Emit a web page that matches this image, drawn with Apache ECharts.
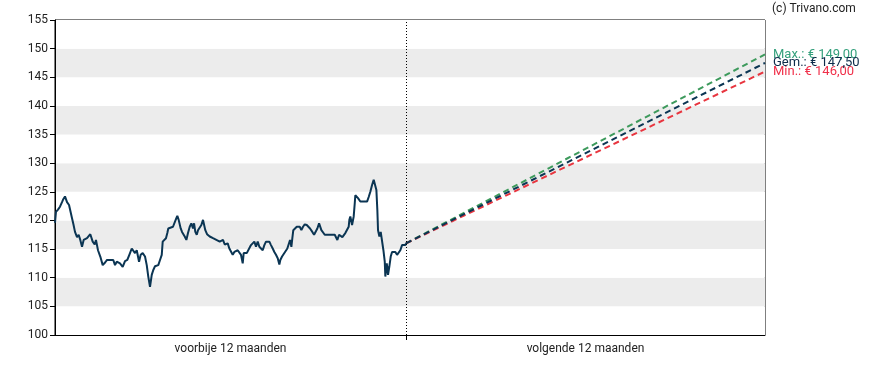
<!DOCTYPE html>
<html>
<head>
<meta charset="utf-8">
<script src="https://cdn.jsdelivr.net/npm/echarts@6/dist/echarts.min.js"></script>
<style>html,body{margin:0;padding:0;background:#fff}#c{width:888px;height:370px}</style>
</head>
<body>
<div id="c"></div>
<script>
// Past 12 months: day offsets (0 = one year ago, 365 = today) and prices
const histDays = [
0,1.0,3.1,5.2,7.3,8.3,10.4,12.5,14.6,16.1,17.7,19.2,20.8,22.9,24.6,26.3,28.1,29.8,31.5,33.3,
35.0,36.7,38.5,39.2,41.3,42.6,44.7,47.1,49.6,50.6,52.3,54.1,55.8,57.2,59.0,60.6,62.4,64.2,65.8,67.6,
69.2,70.4,72.8,75.2,77.3,79.8,81.4,83.2,85.0,87.4,89.1,91.2,93.6,95.4,97.0,98.8,100.6,102.2,104.0,105.8,
107.4,109.2,111.0,112.0,113.7,115.4,116.8,117.8,119.6,122.7,124.5,126.2,127.2,128.6,130.7,132.1,133.1,134.9,136.6,138.3,
140.1,141.8,143.5,144.6,145.9,147.4,148.7,150.5,152.2,153.9,155.0,156.3,158.1,159.8,160.9,162.6,164.3,166.1,167.8,169.5,
171.3,173.0,174.7,176.5,178.2,179.6,181.3,183.0,184.8,186.5,188.2,190.0,191.7,193.4,195.2,196.2,197.9,199.4,201.4,203.8,
205.6,207.3,209.0,210.8,212.5,214.2,216.0,217.7,219.4,221.2,222.9,224.6,226.4,228.1,229.8,231.6,233.3,234.3,236.1,237.4,
239.2,240.2,241.6,243.4,244.4,245.8,246.8,247.8,249.3,251.4,252.7,254.5,256.2,257.9,259.7,261.8,263.4,265.2,267.6,269.4,
271.1,272.8,274.6,275.6,277.0,278.7,280.5,282.2,283.9,285.7,287.4,289.1,290.9,292.6,293.6,295.4,297.1,298.8,300.6,301.9,
303.7,305.4,306.1,307.1,308.9,310.6,311.7,312.3,314.1,315.1,316.5,317.5,319.3,321.0,322.7,324.5,326.2,327.9,329.7,331.4,
333.1,334.2,335.2,335.9,337.3,338.7,340.1,341.5,342.9,343.5,345.0,346.3,347.7,349.1,350.5,352.2,353.9,355.7,357.4,359.1,
360.9,362.6,364.3,365
];
const histPrice = [
119.6,121.5,121.9,122.4,123.2,123.6,124.2,123.2,122.7,122.5,120.4,119.3,118.0,117.1,117.5,116.6,115.4,116.6,116.3,116.9,
116.6,117.6,117.5,116.3,115.8,116.6,114.8,113.7,112.2,112.3,112.7,113.1,113.4,113.1,113.1,113.1,112.2,112.8,112.7,112.5,
112.3,111.9,112.9,113.1,114.0,115.1,114.8,114.3,114.8,112.8,114.0,114.3,113.7,112.2,110.2,108.4,110.5,111.35,112.0,112.2,
112.2,113.1,114.0,116.3,116.4,116.9,117.8,118.6,118.9,118.9,119.2,120.4,120.8,120.1,118.6,118.0,118.3,117.2,116.6,117.8,
118.9,119.5,118.6,119.5,118.0,117.5,118.3,118.6,119.2,120.1,119.8,118.3,117.6,117.6,117.2,117.5,116.9,117.2,116.6,116.6,
116.3,116.0,116.6,115.8,116.0,116.0,115.1,114.8,114.0,114.5,114.3,114.8,115.1,114.0,112.5,114.3,114.0,114.3,114.5,115.7,
116.0,116.3,115.4,116.3,115.4,115.1,114.8,115.7,116.3,116.6,116.3,115.7,115.1,114.5,114.0,113.4,112.3,113.1,113.7,114.0,
114.5,114.8,115.1,115.4,116.6,115.4,116.9,118.3,118.6,118.9,118.6,118.9,118.3,118.9,119.3,119.2,118.9,118.6,118.0,117.5,
117.8,118.6,119.5,119.7,118.3,118.0,117.5,117.2,117.5,117.2,117.5,117.8,117.5,117.2,116.6,117.5,117.2,117.1,117.2,117.8,
118.0,118.9,120.1,120.7,119.2,120.7,123.0,124.4,124.7,123.9,124.1,123.3,123.6,123.3,123.0,123.3,124.1,125.0,126.2,127.1,
127.1,125.3,121.8,118.3,117.2,118.0,117.8,114.8,112.8,110.2,112.5,110.5,112.0,113.7,114.5,114.8,114.5,114.0,114.0,114.8,
115.7,116.0,115.7,116.0
];
// Forecast targets in 12 months
const targetMax = 149.00;
const targetAvg = 147.50;
const targetMin = 146.00;
// Axis
const yTicks = { min: 100, max: 155, interval: 5 };
const xLabels = ['voorbije 12 maanden', 'volgende 12 maanden'];
const copyright = '(c) Trivano.com';

const TODAY = 365;          // days
const HORIZON = 738.3;      // axis end (days)

const histData = histDays.map((d, i) => [d, histPrice[i]]);
const last = histPrice[histPrice.length - 1];

const fmt = v => '€ ' + v.toFixed(2).replace('.', ',');

function forecast(name, target, lineColor, textColor) {
  return {
    type: 'line', name, data: [[TODAY, last], [HORIZON, target]],
    symbol: 'none', z: 3,
    lineStyle: { color: lineColor, width: 2, type: [6, 4] },
    endLabel: {
      show: true, distance: 8, color: textColor,
      fontFamily: 'Roboto', fontSize: 13,
      formatter: () => name + '.: ' + fmt(target)
    }
  };
}

const chart = echarts.init(document.getElementById('c'), null, { renderer: 'canvas' });
chart.setOption({
  animation: false,
  backgroundColor: '#fff',
  grid: { left: 55, right: 123, top: 20, bottom: 35, show: true, borderColor: '#000', borderWidth: 1, backgroundColor: 'transparent' },
  xAxis: {
    type: 'value', min: 0, max: HORIZON,
    axisLine: { show: true, lineStyle: { color: '#000', width: 1 } },
    axisTick: { show: true, length: 5, lineStyle: { color: '#000' }, customValues: [TODAY] },
    axisLabel: {
      show: true, color: '#222', fontFamily: 'Roboto', fontSize: 12, margin: 8,
      customValues: [TODAY / 2, (TODAY + HORIZON) / 2],
      formatter: v => (v < TODAY ? xLabels[0] : xLabels[1])
    },
    splitLine: { show: false }
  },
  yAxis: {
    type: 'value', min: yTicks.min, max: yTicks.max, interval: yTicks.interval,
    axisLine: { show: true, lineStyle: { color: '#000', width: 1 } },
    axisTick: { show: true, length: 5, lineStyle: { color: '#000' } },
    axisLabel: { color: '#222', fontFamily: 'Roboto', fontSize: 12, margin: 7 },
    splitLine: { show: false },
    splitArea: { show: true, areaStyle: { color: ['#ffffff', '#ececec'] } }
  },
  graphic: [{
    type: 'text', left: 772, top: 3,
    style: { text: copyright, font: '12px Roboto', fill: '#222' }
  }],
  series: [
    {
      type: 'line', name: 'koers', data: histData, symbol: 'none', z: 4,
      lineStyle: { color: '#0b3553', width: 2 },
      markLine: {
        silent: true, symbol: 'none', label: { show: false },
        lineStyle: { color: '#000', width: 1, type: [1, 2] },
        data: [{ xAxis: TODAY }]
      }
    },
    forecast('Max', targetMax, '#3d9a5c', '#34a07c'),
    forecast('Min', targetMin, '#e8353f', '#f0304a'),
    forecast('Gem', targetAvg, '#0b3553', '#0d2b4a')
  ]
});
</script>
</body>
</html>
